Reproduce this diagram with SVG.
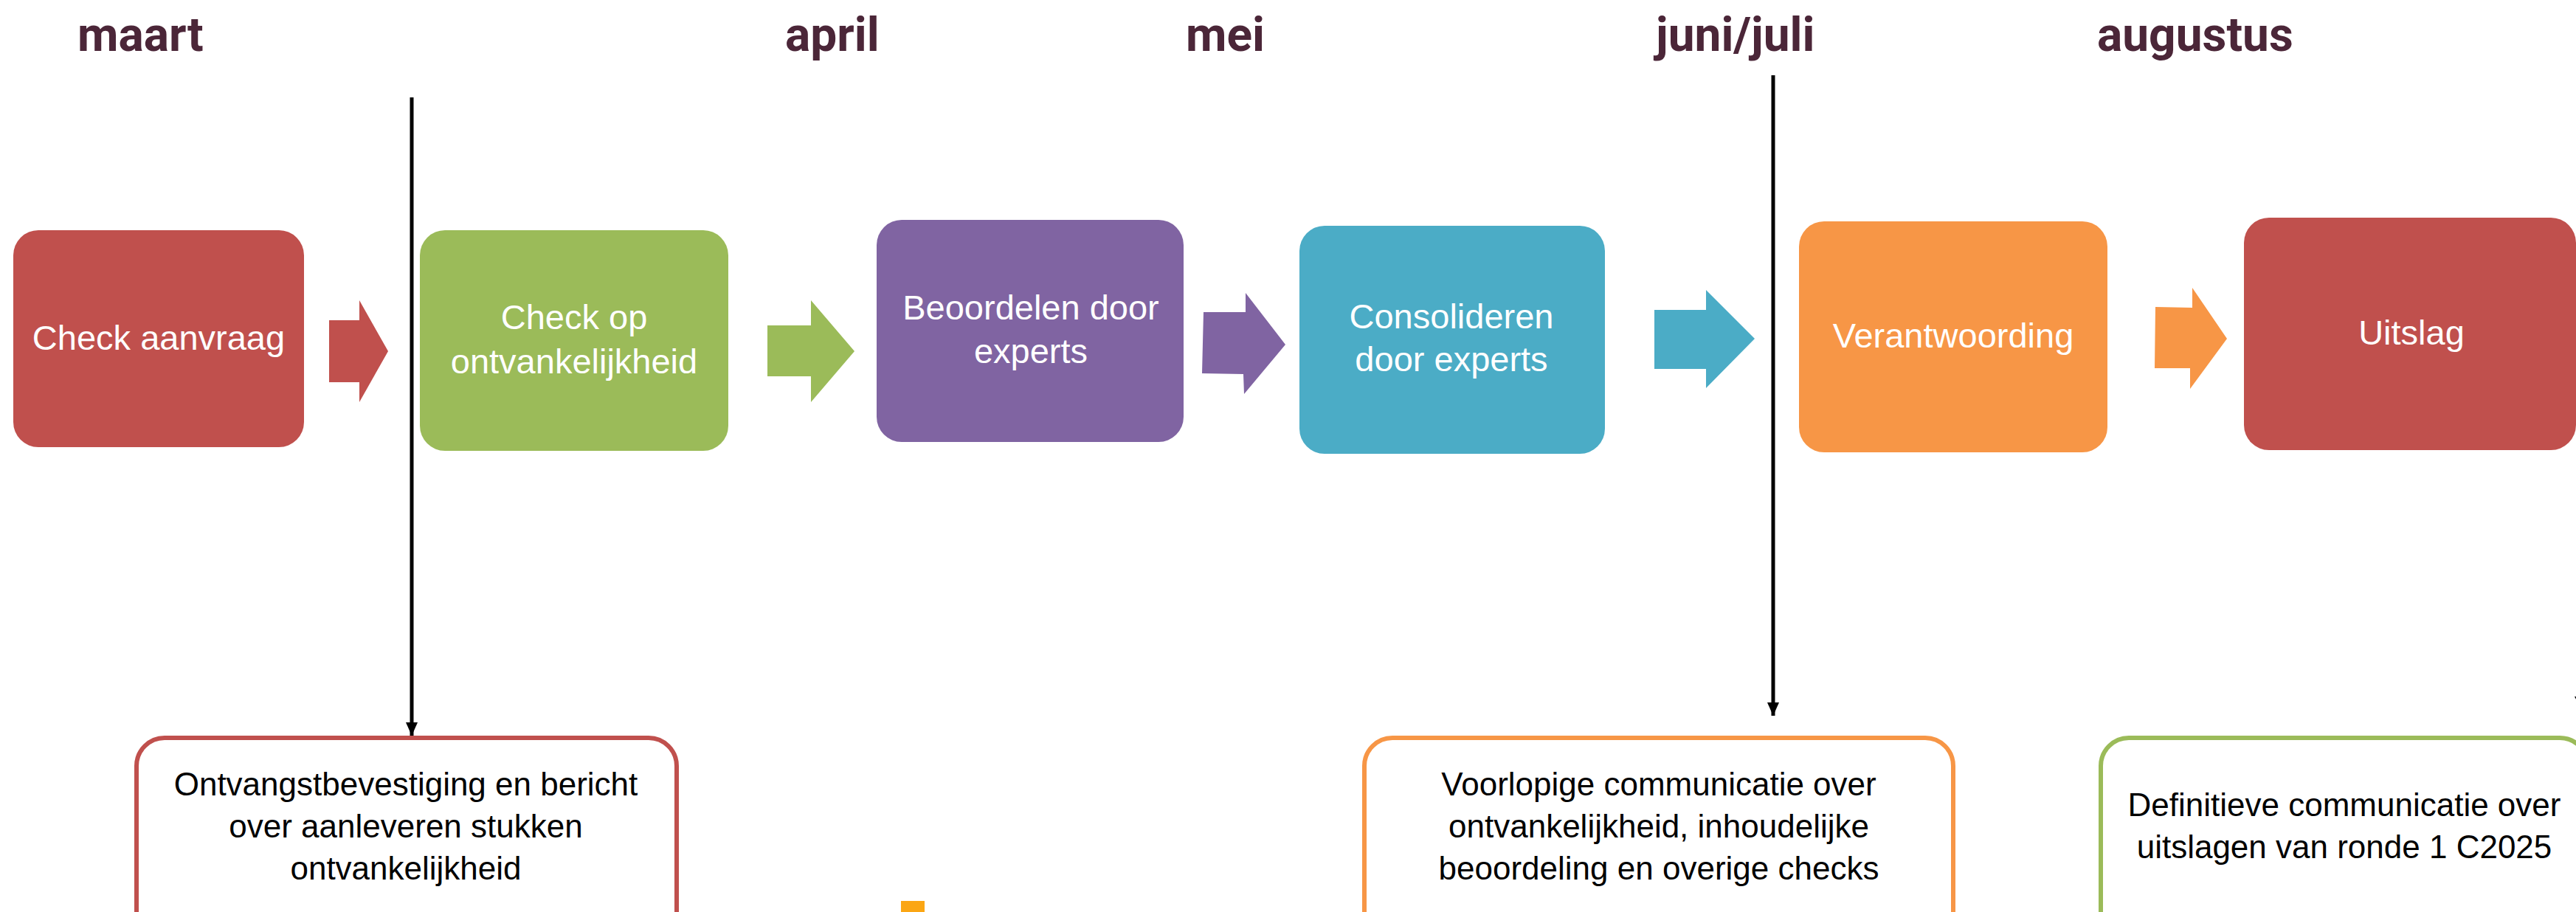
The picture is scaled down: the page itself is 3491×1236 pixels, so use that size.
<svg xmlns="http://www.w3.org/2000/svg" width="3491" height="1236" viewBox="0 0 3491 1236">
<defs>
<style>
.month{font-family:Roboto,"Liberation Sans",sans-serif;font-weight:700;font-size:64px;fill:#4b2638}
.ptext{font-family:"Liberation Sans",Arial,sans-serif;font-size:47px;fill:#ffffff;text-anchor:middle}
.ntext{font-family:"Liberation Sans",Arial,sans-serif;font-size:44px;fill:#000000;text-anchor:middle}
.note{fill:#ffffff;stroke-width:6}
.vline{stroke:#000000;stroke-width:5;fill:none}
</style>
<marker id="ah" viewBox="0 0 18 16" refX="18" refY="8" markerWidth="18" markerHeight="16" markerUnits="userSpaceOnUse" orient="auto">
<path d="M0,0 L18,8 L0,16 Z" fill="#000000"/>
</marker>
</defs>
<rect width="3491" height="1236" fill="#ffffff"/>

<g id="months">
<text class="month" x="105" y="69">maart</text>
<text class="month" x="1064" y="69">april</text>
<text class="month" x="1607" y="69">mei</text>
<text class="month" x="2244" y="69">juni/juli</text>
<text class="month" x="2842" y="69">augustus</text>
</g>

<g id="node-check-aanvraag">
<rect x="18" y="312" width="394" height="294" rx="34" fill="#c0504d"/>
<text class="ptext" x="215" y="474">Check aanvraag</text>
</g>
<g id="node-check-ontvankelijkheid">
<rect x="569" y="312" width="418" height="299" rx="34" fill="#9bbb59"/>
<text class="ptext" x="778" y="446">Check op</text>
<text class="ptext" x="778" y="506">ontvankelijkheid</text>
</g>
<g id="node-beoordelen">
<rect x="1188" y="298" width="416" height="301" rx="34" fill="#8064a2"/>
<text class="ptext" x="1397" y="433">Beoordelen door</text>
<text class="ptext" x="1397" y="492">experts</text>
</g>
<g id="node-consolideren">
<rect x="1761" y="306" width="414" height="309" rx="34" fill="#4bacc6"/>
<text class="ptext" x="1967" y="445">Consolideren</text>
<text class="ptext" x="1967" y="503">door experts</text>
</g>
<g id="node-verantwoording">
<rect x="2438" y="300" width="418" height="313" rx="34" fill="#f79646"/>
<text class="ptext" x="2647" y="471">Verantwoording</text>
</g>
<g id="node-uitslag">
<rect x="3041" y="295" width="450" height="315" rx="34" fill="#c0504d"/>
<text class="ptext" x="3268" y="467">Uitslag</text>
</g>

<g id="node-ontvangstbevestiging">
<rect class="note" x="185" y="1000" width="732" height="320" rx="38" stroke="#c0504d"/>
<text class="ntext" x="550" y="1078">Ontvangstbevestiging en bericht</text>
<text class="ntext" x="550" y="1135">over aanleveren stukken</text>
<text class="ntext" x="550" y="1192">ontvankelijkheid</text>
</g>
<g id="node-voorlopige">
<rect class="note" x="1849" y="1000" width="798" height="320" rx="38" stroke="#f79646"/>
<text class="ntext" x="2248" y="1078">Voorlopige communicatie over</text>
<text class="ntext" x="2248" y="1135">ontvankelijkheid, inhoudelijke</text>
<text class="ntext" x="2248" y="1192">beoordeling en overige checks</text>
</g>
<g id="node-definitieve">
<rect class="note" x="2847" y="1000" width="660" height="320" rx="38" stroke="#9bbb59"/>
<text class="ntext" x="3177" y="1106">Definitieve communicatie over</text>
<text class="ntext" x="3177" y="1163">uitslagen van ronde 1 C2025</text>
</g>

<g id="connectors">
<polygon points="446,434 487,434 487,407 526,476 487,545 487,518 446,518" fill="#c0504d"/>
<polygon points="1040,441 1099,441 1099,407 1158,476 1099,545 1099,510 1040,510" fill="#9bbb59"/>
<polygon points="1631,423 1688,423 1688,397 1742,467 1686,534 1685,507 1629,506" fill="#8064a2"/>
<polygon points="2242,420 2312,420 2312,393 2378,459 2312,526 2312,500 2242,500" fill="#4bacc6"/>
<polygon points="2921,416 2971,417 2971,390 3018,459 2968,527 2968,499 2920,499" fill="#f79646"/>
<line class="vline" x1="558" y1="132" x2="558" y2="997" marker-end="url(#ah)"/>
<line class="vline" x1="2403" y1="102" x2="2403" y2="970" marker-end="url(#ah)"/>
<polygon points="3489,944 3507,944 3498,961" fill="#000000"/>
</g>

<rect id="orange-square" x="1221" y="1221" width="32" height="15" fill="#fba614"/>
</svg>
